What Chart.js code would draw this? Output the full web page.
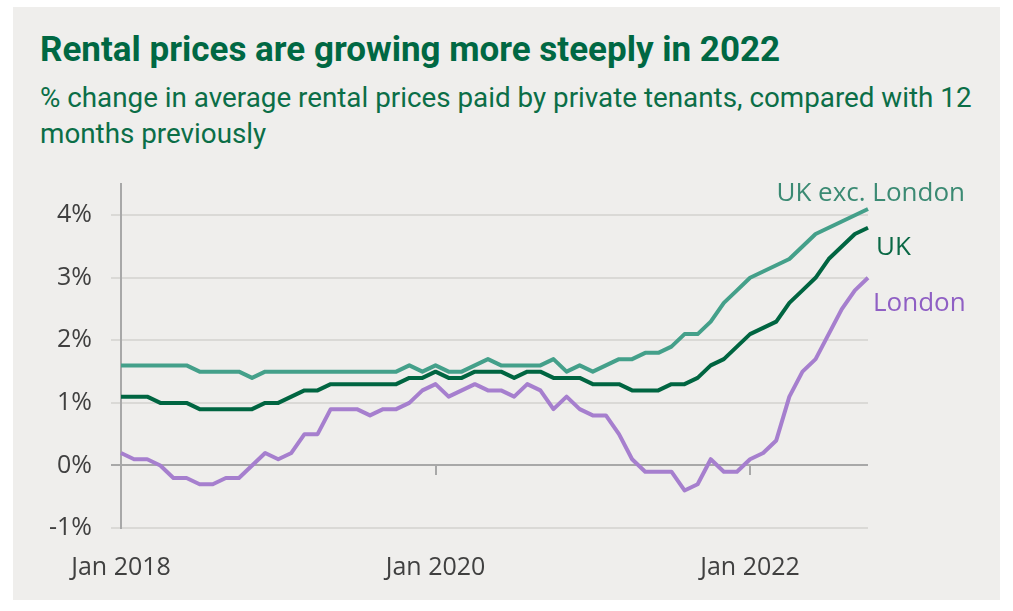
<!DOCTYPE html>
<html>
<head>
<meta charset="utf-8">
<script src="https://cdn.jsdelivr.net/npm/chart.js@4.4.0/dist/chart.umd.min.js"></script>
<style>
  body { margin: 0; background: #fff; width: 1013px; height: 611px; overflow: hidden; position: relative; }
  .card { position: absolute; left: 13px; top: 7px; width: 987px; height: 593px; background: #efeeec; }
  .title { position: absolute; left: 40px; top: 30px; margin: 0; font: 700 35px Roboto, sans-serif; color: #006843; white-space: nowrap; line-height: 40px; }
  .sub { position: absolute; left: 40px; top: 80px; margin: 0; font: 400 27.8px Roboto, sans-serif; color: #0b6e47; line-height: 36px; white-space: nowrap; }
  #wrap { position: absolute; left: 0; top: 170px; }
</style>
</head>
<body>
<div class="card"></div>
<div class="title">Rental prices are growing more steeply in 2022</div>
<div class="sub">% change in average rental prices paid by private tenants, compared with 12<br>months previously</div>
<div id="wrap"><canvas id="rents" width="1013" height="430"></canvas></div>
<script>
// months Jan 2018 .. Oct 2022
const months = [
  'Jan 2018','Feb 2018','Mar 2018','Apr 2018','May 2018','Jun 2018','Jul 2018','Aug 2018','Sep 2018','Oct 2018','Nov 2018','Dec 2018',
  'Jan 2019','Feb 2019','Mar 2019','Apr 2019','May 2019','Jun 2019','Jul 2019','Aug 2019','Sep 2019','Oct 2019','Nov 2019','Dec 2019',
  'Jan 2020','Feb 2020','Mar 2020','Apr 2020','May 2020','Jun 2020','Jul 2020','Aug 2020','Sep 2020','Oct 2020','Nov 2020','Dec 2020',
  'Jan 2021','Feb 2021','Mar 2021','Apr 2021','May 2021','Jun 2021','Jul 2021','Aug 2021','Sep 2021','Oct 2021','Nov 2021','Dec 2021',
  'Jan 2022','Feb 2022','Mar 2022','Apr 2022','May 2022','Jun 2022','Jul 2022','Aug 2022','Sep 2022','Oct 2022'
];
const shownMonths = ['Jan 2018', 'Jan 2020', 'Jan 2022'];

const ukExLondon = [1.6,1.6,1.6,1.6,1.6,1.6,1.5,1.5,1.5,1.5,1.4,1.5,
  1.5,1.5,1.5,1.5,1.5,1.5,1.5,1.5,1.5,1.5,1.6,1.5,
  1.6,1.5,1.5,1.6,1.7,1.6,1.6,1.6,1.6,1.7,1.5,1.6,
  1.5,1.6,1.7,1.7,1.8,1.8,1.9,2.1,2.1,2.3,2.6,2.8,
  3.0,3.1,3.2,3.3,3.5,3.7,3.8,3.9,4.0,4.1];
const uk = [1.1,1.1,1.1,1.0,1.0,1.0,0.9,0.9,0.9,0.9,0.9,1.0,
  1.0,1.1,1.2,1.2,1.3,1.3,1.3,1.3,1.3,1.3,1.4,1.4,
  1.5,1.4,1.4,1.5,1.5,1.5,1.4,1.5,1.5,1.4,1.4,1.4,
  1.3,1.3,1.3,1.2,1.2,1.2,1.3,1.3,1.4,1.6,1.7,1.9,
  2.1,2.2,2.3,2.6,2.8,3.0,3.3,3.5,3.7,3.8];
const london = [0.2,0.1,0.1,0.0,-0.2,-0.2,-0.3,-0.3,-0.2,-0.2,0.0,0.2,
  0.1,0.2,0.5,0.5,0.9,0.9,0.9,0.8,0.9,0.9,1.0,1.2,
  1.3,1.1,1.2,1.3,1.2,1.2,1.1,1.3,1.2,0.9,1.1,0.9,
  0.8,0.8,0.5,0.1,-0.1,-0.1,-0.1,-0.4,-0.3,0.1,-0.1,-0.1,
  0.1,0.2,0.4,1.1,1.5,1.7,2.1,2.5,2.8,3.0];

const yTicks = [-1, 0, 1, 2, 3, 4];

// text at the end of each line
const endLabels = [
  { text: 'UK exc. London', color: '#3b8a73', align: 'right', dx: 97, dy: -15 },
  { text: 'UK', color: '#0a6845', align: 'left', dx: 8, dy: 20 },
  { text: 'London', color: '#8f5fc4', align: 'left', dx: 5, dy: 26 }
];

const endLabelPlugin = {
  id: 'endLabels',
  afterDatasetsDraw(chart) {
    const ctx = chart.ctx;
    ctx.save();
    ctx.font = '26px "Open Sans"';
    ctx.textBaseline = 'middle';
    endLabels.forEach((l, i) => {
      const pts = chart.getDatasetMeta(i).data;
      const p = pts[pts.length - 1];
      ctx.fillStyle = l.color;
      ctx.textAlign = l.align;
      ctx.fillText(l.text, p.x + l.dx, p.y + l.dy);
    });
    ctx.restore();
  }
};

const lineStyle = { borderWidth: 4, pointRadius: 0, tension: 0, fill: false, borderJoinStyle: 'round' };

new Chart(document.getElementById('rents'), {
  type: 'line',
  data: {
    labels: months,
    datasets: [
      { label: 'UK exc. London', data: ukExLondon, borderColor: '#44a08a', ...lineStyle },
      { label: 'UK', data: uk, borderColor: '#006541', ...lineStyle },
      { label: 'London', data: london, borderColor: '#a67fce', ...lineStyle }
    ]
  },
  options: {
    responsive: false,
    animation: false,
    layout: { padding: { left: 0, right: 145, top: 14, bottom: 17 } },
    plugins: { legend: { display: false }, tooltip: { enabled: false } },
    scales: {
      x: {
        offset: false,
        grid: { display: false, drawTicks: false },
        border: { display: false },
        afterFit(s) { s.height = 55; },
        ticks: {
          autoSkip: false, maxRotation: 0, padding: 25,
          color: '#404040', font: { family: 'Open Sans', size: 25 },
          callback(v, i) { return shownMonths.includes(months[i]) ? months[i] : ''; }
        }
      },
      x0: {
        type: 'category',
        position: { y: 0 },
        offset: false,
        border: { display: false },
        ticks: { display: false },
        afterFit(s) { s.height = 0; },
        grid: {
          drawOnChartArea: false, drawTicks: true, tickLength: 10, lineWidth: 2,
          color: (c) => shownMonths.includes(months[c.index]) ? '#a8a8a8' : 'rgba(0,0,0,0)'
        }
      },
      y: {
        min: -1, max: 4.5,
        afterBuildTicks(s) { s.ticks = yTicks.map(v => ({ value: v })); },
        afterFit(s) { s.width = 121; s.paddingTop = 0; s.paddingBottom = 0; },
        border: { color: '#a8a8a8', width: 2 },
        grid: {
          tickLength: 10, lineWidth: 2,
          color: (c) => c.tick && c.tick.value === 0 ? '#a8a8a8' : '#dad9d6'
        },
        ticks: {
          padding: 19, color: '#404040', font: { family: 'Open Sans', size: 25 },
          callback: (v) => v + '%'
        }
      }
    }
  },
  plugins: [endLabelPlugin]
});
</script>
</body>
</html>
